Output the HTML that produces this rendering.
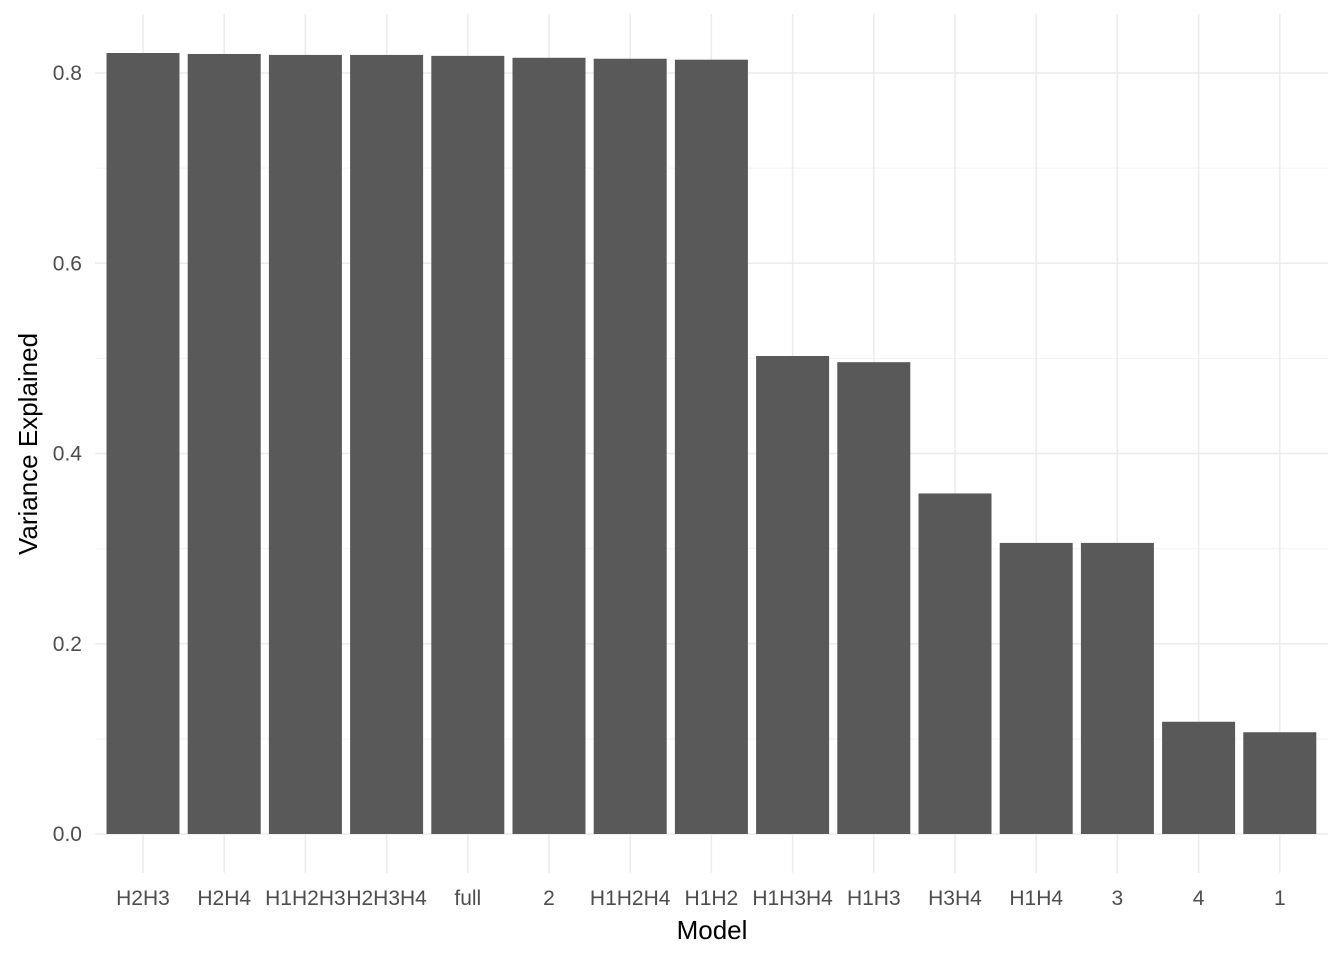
<!DOCTYPE html>
<html><head><meta charset="utf-8"><style>
body{margin:0;background:#fff;font-family:"Liberation Sans",sans-serif;}
</style></head><body>
<svg width="1344" height="960" xmlns="http://www.w3.org/2000/svg">
<g id="grid"></g>
<g id="bars"></g>
<g id="xt"></g>
<g id="yt"></g>
<text x="712" y="939" font-size="26" text-anchor="middle" fill="#000">Model</text>
<text transform="translate(37,444) rotate(-90)" font-size="26" text-anchor="middle" fill="#000">Variance Explained</text>
</svg>
<script>
const categories=["H2H3","H2H4","H1H2H3","H2H3H4","full","2","H1H2H4","H1H2","H1H3H4","H1H3","H3H4","H1H4","3","4","1"];
const values=[0.821,0.820,0.819,0.819,0.818,0.816,0.815,0.814,0.5025,0.496,0.358,0.306,0.306,0.118,0.107];
const yTicks=[0,0.2,0.4,0.6,0.8];
const yTickLabels=["0.0","0.2","0.4","0.6","0.8"];
const yMinor=[0.1,0.3,0.5,0.7];
const NS="http://www.w3.org/2000/svg";
const y=v=>834-v*951.25;
const x=i=>143+i*81.2;
const bw=73;
function mk(t,a,p){const e=document.createElementNS(NS,t);for(const k in a)e.setAttribute(k,a[k]);p.appendChild(e);return e;}
const grid=document.getElementById('grid'),bars=document.getElementById('bars'),xt=document.getElementById('xt'),yt=document.getElementById('yt');
yMinor.forEach(v=>{const l=mk('line',{x1:95,x2:1328,y1:y(v),y2:y(v),stroke:'#f2f2f2','stroke-width':1},grid);

});
yTicks.forEach((v,i)=>{const l=mk('line',{x1:95,x2:1328,y1:y(v),y2:y(v),stroke:'#ebebeb','stroke-width':1.5},grid);


const t=mk('text',{x:82,y:y(v)+7,'font-size':21,'text-anchor':'end',fill:'#4d4d4d'},yt);t.textContent=yTickLabels[i];

});
categories.forEach((c,i)=>{const l=mk('line',{x1:x(i),x2:x(i),y1:14,y2:873,stroke:'#ebebeb','stroke-width':1.5},grid);


const r=mk('rect',{x:x(i)-bw/2,y:y(values[i]),width:bw,height:834-y(values[i]),fill:'#595959'},bars);


const t=mk('text',{x:x(i),y:905,'font-size':21,'text-anchor':'middle',fill:'#4d4d4d'},xt);t.textContent=c;

});
</script>
</body></html>
